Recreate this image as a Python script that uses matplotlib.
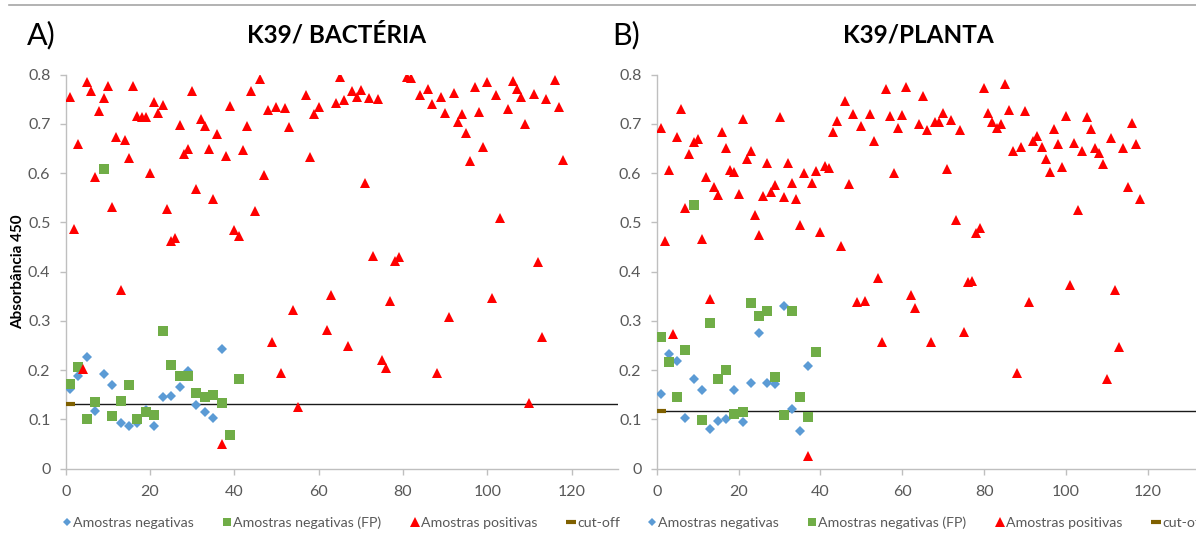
#!/usr/bin/env python3
"""
ELISA absorbance (450 nm) per sample for K39 antigen:
A) bacterial expression, B) plant expression, with cut-off line.
"""

import numpy as np
import matplotlib
matplotlib.use('Agg')
import matplotlib.pyplot as plt
from matplotlib.lines import Line2D

nan = np.nan

# ---- data ----
# negative samples / false-positive negatives sit at odd sample numbers
neg_x_a = list(range(1, 38, 2))
neg_a = [0.161, 0.187, 0.226, 0.117, 0.191, 0.170, 0.093, 0.087, 0.092, 0.118,
         0.087, 0.146, 0.148, 0.165, 0.199, 0.128, 0.114, 0.102, 0.243]
fp_x_a = list(range(1, 42, 2))
fp_a = [0.172, 0.206, 0.101, 0.135, 0.608, 0.106, 0.137, 0.170, 0.101, 0.115,
        0.109, 0.280, 0.210, 0.188, 0.188, 0.154, 0.146, 0.149, 0.133, 0.069,
        0.182]
pos_x = list(range(1, 119))
pos_a = [0.754, 0.487, 0.660, 0.202, 0.785, 0.767, 0.592, 0.726, 0.752, 0.777,
         0.532, 0.674, 0.362, 0.667, 0.631, 0.778, 0.716, 0.715, 0.715, 0.601,
         0.745, 0.723, 0.738, 0.527, 0.462, 0.468, 0.698, 0.639, 0.650, 0.767,
         0.568, 0.710, 0.696, 0.650, 0.547, 0.679, 0.050, 0.635, 0.736, 0.484,
         0.473, 0.647, 0.696, 0.767, 0.523, 0.791, 0.597, 0.728, 0.257, 0.734,
         0.195, 0.733, 0.693, 0.323, 0.125, nan, 0.758, 0.633, 0.721, 0.734,
         nan, 0.282, 0.352, 0.742, 0.796, 0.749, 0.249, 0.767, 0.755, 0.768,
         0.580, 0.752, 0.431, 0.750, 0.220, 0.204, 0.340, 0.422, 0.429, nan,
         0.796, 0.794, nan, 0.759, nan, 0.771, 0.740, 0.194, 0.754, 0.723,
         0.307, 0.762, 0.703, 0.721, 0.681, 0.625, 0.776, 0.724, 0.653, 0.785,
         0.346, 0.758, 0.509, nan, 0.730, 0.787, 0.771, 0.755, 0.700, 0.133,
         0.761, 0.419, 0.267, 0.750, nan, 0.789, 0.735, 0.626]
cutoff_a = 0.131

neg_x_b = list(range(1, 38, 2))
neg_b = [0.152, 0.233, 0.219, 0.103, 0.181, 0.159, 0.081, 0.096, 0.101, 0.159,
         0.094, 0.173, 0.275, 0.173, 0.172, 0.331, 0.120, 0.076, 0.208]
fp_x_b = list(range(1, 40, 2))
fp_b = [0.267, 0.217, 0.146, 0.241, 0.536, 0.098, 0.296, 0.181, 0.201, 0.111,
        0.114, 0.336, 0.309, 0.319, 0.185, 0.108, 0.319, 0.145, 0.104, 0.237]
pos_b = [0.691, 0.463, 0.607, 0.273, 0.674, 0.730, 0.530, 0.639, 0.664, 0.670,
         0.467, 0.592, 0.344, 0.571, 0.555, 0.683, 0.651, 0.607, 0.603, 0.558,
         0.711, 0.629, 0.646, 0.514, 0.475, 0.554, 0.621, 0.561, 0.576, 0.714,
         0.552, 0.621, 0.581, 0.548, 0.494, 0.600, 0.025, 0.580, 0.604, 0.480,
         0.615, 0.610, 0.684, 0.705, 0.452, 0.747, 0.578, 0.720, 0.338, 0.696,
         0.341, 0.720, 0.665, 0.386, 0.256, 0.770, 0.717, 0.600, 0.692, 0.718,
         0.776, 0.352, 0.327, 0.700, 0.757, 0.688, 0.257, 0.703, 0.703, 0.723,
         0.609, 0.707, 0.505, 0.688, 0.277, 0.379, 0.380, 0.479, 0.489, 0.772,
         0.722, 0.703, 0.691, 0.699, 0.782, 0.728, 0.644, 0.195, 0.653, 0.726,
         0.339, 0.666, 0.675, 0.653, 0.628, 0.602, 0.690, 0.659, 0.612, 0.717,
         0.373, 0.662, 0.526, 0.645, 0.714, 0.689, 0.652, 0.640, 0.619, 0.181,
         0.671, 0.362, 0.247, 0.652, 0.571, 0.702, 0.660, 0.548]
cutoff_b = 0.117

labels = ['Amostras negativas', 'Amostras negativas (FP)',
          'Amostras positivas', 'cut-off']

BLUE = '#5B9BD5'
GREEN = '#70AD47'
RED = '#FF0000'
BROWN = '#7F6000'
AXIS_GRAY = '#BFBFBF'
TEXT_GRAY = '#595959'
FONT = ['Lato', 'DejaVu Sans']

W, H = 1196, 535


def px_box(x0, y_top, x1, y_bot):
    """Axes rectangle from pixel coordinates."""
    return [x0 / W, 1 - y_bot / H, (x1 - x0) / W, (y_bot - y_top) / H]


def draw_panel(ax, neg_x, neg, fp_x, fp, pos, cutoff, xmax):
    ax.plot(neg_x, neg, linestyle='none', marker='D', ms=5, color=BLUE,
            mew=0, zorder=3)
    ax.plot(fp_x, fp, linestyle='none', marker='s', ms=6.5, color=GREEN,
            mew=0, zorder=3)
    ax.plot(pos_x, pos, linestyle='none', marker='^', ms=7.5, color=RED,
            mew=0, zorder=3)
    # cut-off: line across the plot plus the single series point
    ax.axhline(cutoff, color='#1a1a1a', lw=1.0, zorder=2)
    ax.plot([1], [cutoff], linestyle='none', marker='_', ms=7, mew=3,
            color=BROWN, zorder=4)

    ax.set_xlim(0, xmax)
    ax.set_ylim(0, 0.8)
    ax.set_xticks(range(0, 121, 20))
    ax.set_yticks(np.arange(0, 0.81, 0.1))
    ax.set_yticklabels(['0'] + [f'{v:.1f}' for v in np.arange(0.1, 0.81, 0.1)])
    for s in ('top', 'right'):
        ax.spines[s].set_visible(False)
    for s in ('left', 'bottom'):
        ax.spines[s].set_color(AXIS_GRAY)
        ax.spines[s].set_linewidth(1.0)
    ax.tick_params(direction='out', length=4, width=1, color=AXIS_GRAY,
                   labelcolor=TEXT_GRAY, labelsize=11.5)
    ax.tick_params(axis='y', pad=7)
    ax.tick_params(axis='x', pad=8)
    for t in ax.get_xticklabels() + ax.get_yticklabels():
        t.set_family(FONT)


def add_legend(ax, x_left):
    handles = [
        Line2D([], [], linestyle='none', marker='D', ms=4, color=BLUE, mew=0),
        Line2D([], [], linestyle='none', marker='s', ms=6, color=GREEN, mew=0),
        Line2D([], [], linestyle='none', marker='^', ms=7, color=RED, mew=0),
        Line2D([], [], linestyle='none', marker='_', ms=7, mew=3, color=BROWN),
    ]
    ax.legend(handles, labels, loc='center left',
              bbox_to_anchor=(x_left / W, 1 - 523 / H),
              bbox_transform=ax.figure.transFigure, ncol=4, frameon=False,
              handlelength=0.5, handletextpad=0.2, columnspacing=2.1,
              borderaxespad=0, borderpad=0,
              prop={'family': FONT, 'size': 10.2}, labelcolor=TEXT_GRAY)


def main():
    fig = plt.figure(figsize=(W / 100, H / 100), dpi=100)
    fig.patch.set_facecolor('white')

    ax1 = fig.add_axes(px_box(65.7, 74.7, 65.7 + 131 * 4.216, 468.5))
    ax2 = fig.add_axes(px_box(656.7, 74.7, 656.7 + 132 * 4.094, 468.5))

    draw_panel(ax1, neg_x_a, neg_a, fp_x_a, fp_a, pos_a, cutoff_a, 131)
    draw_panel(ax2, neg_x_b, neg_b, fp_x_b, fp_b, pos_b, cutoff_b, 132)

    add_legend(ax1, 63)
    add_legend(ax2, 648)

    # panel letters and titles
    fig.text(27 / W, 1 - 35 / H, 'A)', fontsize=22, family=FONT, va='center')
    fig.text(337 / W, 1 - 35 / H, 'K39/ BACTÉRIA', fontsize=17.5,
             fontweight='bold', family=FONT, ha='center', va='center')
    fig.text(612 / W, 1 - 35 / H, 'B)', fontsize=22, family=FONT, va='center')
    fig.text(918 / W, 1 - 35 / H, 'K39/PLANTA', fontsize=17.5,
             fontweight='bold', family=FONT, ha='center', va='center')

    fig.text(18 / W, 1 - 272 / H, 'Absorbância 450', fontsize=11,
             fontweight='bold', family=FONT, rotation=90,
             ha='center', va='center')

    # thin grey rule along the top of the figure
    fig.add_artist(Line2D([9 / W, 1], [1 - 5 / H, 1 - 5 / H],
                          transform=fig.transFigure, color='#A6A6A6', lw=1.2))

    fig.savefig('out.png', dpi=100)


if __name__ == "__main__":
    main()
